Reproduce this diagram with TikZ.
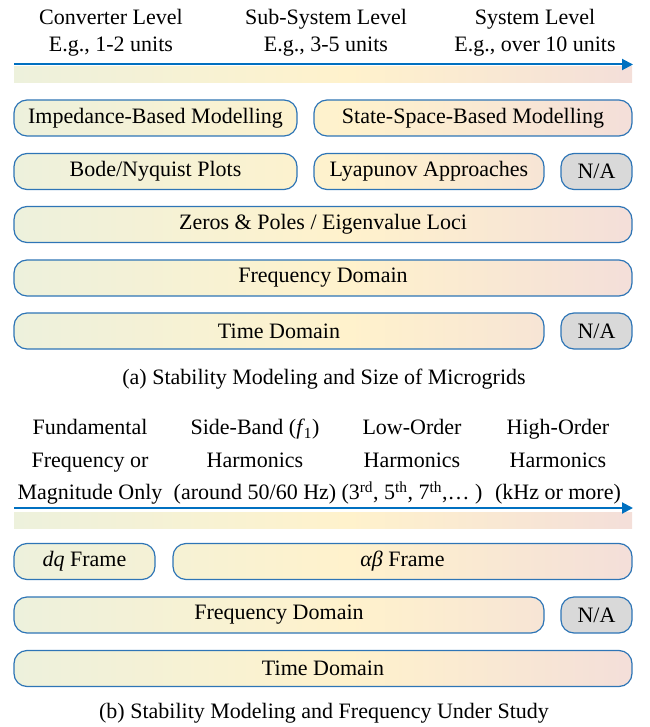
\documentclass[tikz,border=0pt]{standalone}
\usepackage{fontspec}
\setmainfont{Liberation Serif}
\usetikzlibrary{arrows.meta}
\definecolor{barblue}{RGB}{0,112,192}
\definecolor{boxblue}{RGB}{46,117,182}
\definecolor{lowgreen}{RGB}{235,241,222}
\definecolor{midyellow}{RGB}{255,242,204}
\definecolor{highpink}{RGB}{242,220,219}
\definecolor{nagray}{RGB}{217,217,217}
\pgfdeclarehorizontalshading{levelshade}{100bp}{%
    color(0bp)=(lowgreen); color(22bp)=(lowgreen); color(52bp)=(midyellow);
    color(78bp)=(highpink); color(100bp)=(highpink)}

\begin{document}
\begin{tikzpicture}[
            x=1pt, y=-1pt,
            every node/.style={font=\fontsize{22}{27}\selectfont},
            level bar/.style={shading=levelshade, draw=none},
            level arrow/.style={draw=barblue, line width=2pt, -{Triangle[length=11pt, width=11pt]}},
            method/.style={draw=boxblue, line width=1.2pt, rounded corners=13pt,
                minimum width=#1, minimum height=36pt, inner sep=0pt,
                path picture={\shade[shading=levelshade] (gL |- path picture bounding box.north) rectangle (gR |- path picture bounding box.south);}},
            na/.style={draw=boxblue, line width=1.2pt, rounded corners=13pt, fill=nagray,
                minimum width=71pt, minimum height=36pt, inner sep=0pt},
            band/.style={align=center, inner sep=0pt, font=\fontsize{22}{32.5}\selectfont}
        ]
        \useasboundingbox (0,0) rectangle (649,727);
        \coordinate (gL) at (14,0);
        \coordinate (gR) at (632,0);

        % (a) size of microgrid
        \node[align=center, inner sep=0pt] (conv) at (111,33) {Converter Level\\E.g., 1-2 units};
        \node[align=center, inner sep=0pt] (subsys) at (326,33) {Sub-System Level\\E.g., 3-5 units};
        \node[align=center, inner sep=0pt] (sys) at (535,33) {System Level\\E.g., over 10 units};
        \shade[level bar] (14,67) rectangle (632,83);
        \coordinate (sizeL) at (14,64.5);
        \coordinate (sizeR) at (633,64.5);
        \draw[level arrow] (sizeL) -- (sizeR);

        \node[method=283pt] (imp) at (155.5,118) {Impedance-Based Modelling};
        \node[method=318pt] (ss) at (473,118) {State-Space-Based Modelling};
        \node[method=283pt] (bode) at (155.5,171.5) {Bode/Nyquist Plots};
        \node[method=230pt] (lyap) at (429,171.5) {Lyapunov Approaches};
        \node[na] (naA) at (596.5,171.5) {N/A};
        \node[method=618pt] (eig) at (323,224.5) {Zeros \& Poles / Eigenvalue Loci};
        \node[method=618pt] (freqA) at (323,278) {Frequency Domain};
        \node[method=530pt] (timeA) at (279,331) {Time Domain};
        \node[na] (naB) at (596.5,331) {N/A};
        \node (capA) at (324,379) {(a) Stability Modeling and Size of Microgrids};

        % (b) frequency under study
        \node[band] (fund) at (90,462) {Fundamental\\Frequency or\\Magnitude Only};
        \node[band] (side) at (255,462) {Side-Band (\textit{f}\kern-1pt\textsubscript{1})\\Harmonics\\(around 50/60 Hz)};
        \node[band] (low) at (412,462) {Low-Order\\Harmonics\\(3\textsuperscript{rd}, 5\textsuperscript{th}, 7\textsuperscript{th},… )};
        \node[band] (high) at (558,462) {High-Order\\Harmonics\\(kHz or more)};
        \shade[level bar] (14,512) rectangle (632,528);
        \coordinate (bandL) at (14,508);
        \coordinate (bandR) at (633,508);
        \draw[level arrow] (bandL) -- (bandR);

        \node[method=141pt] (dq) at (84.5,561.5) {\textit{dq} Frame};
        \node[method=459pt] (ab) at (402.5,561.5) {\textit{αβ} Frame};
        \node[method=530pt] (freqB) at (279,615) {Frequency Domain};
        \node[na] (naC) at (596.5,615) {N/A};
        \node[method=618pt] (timeB) at (323,668.5) {Time Domain};
        \node (capB) at (324,713) {(b) Stability Modeling and Frequency Under Study};
\end{tikzpicture}
\end{document}
